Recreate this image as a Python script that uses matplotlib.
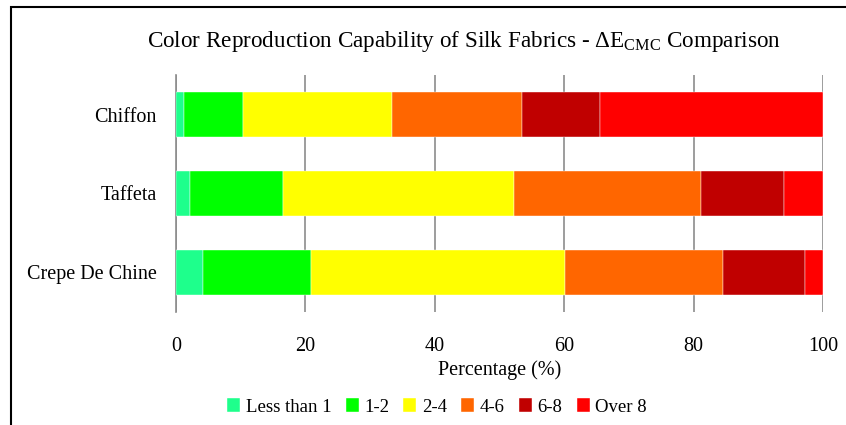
import numpy as np
import matplotlib.pyplot as plt
from matplotlib.patches import Rectangle

# share of samples (%) in each Delta E CMC band, per fabric
fabrics = ['Crepe De Chine', 'Taffeta', 'Chiffon']
bands = ['Less than 1', '1-2', '2-4', '4-6', '6-8', 'Over 8']
less_than_1 = [4.1, 2.2, 1.2]
de_1_2 = [16.8, 14.4, 9.1]
de_2_4 = [39.2, 35.6, 23.1]
de_4_6 = [24.5, 29.0, 20.1]
de_6_8 = [12.6, 12.7, 12.1]
over_8 = [2.8, 6.1, 34.4]
colors = ['#1EFF8C', '#00FF00', '#FFFF00', '#FF6600', '#C00000', '#FF0000']

plt.rcParams['font.family'] = 'Liberation Serif'
plt.rcParams['mathtext.fontset'] = 'custom'
plt.rcParams['mathtext.rm'] = 'Liberation Serif'

fig = plt.figure(figsize=(8.46, 4.25), dpi=100)
ax = fig.add_axes([176 / 846, 1 - 312 / 425, 647 / 846, 237 / 425])

y = np.arange(len(fabrics))
left = np.zeros(len(fabrics))
for name, vals, c in zip(bands, [less_than_1, de_1_2, de_2_4, de_4_6, de_6_8, over_8], colors):
    ax.barh(y, vals, left=left, height=0.56, color=c, label=name, zorder=3,
            edgecolor='white', linewidth=0.3)
    left += np.array(vals)

ax.set_xlim(0, 100)
ax.set_ylim(-0.5, 2.5)
ax.set_xticks(range(0, 101, 20))
ax.set_yticks(y)
ax.set_yticklabels(fabrics, fontsize=14.5)
ax.tick_params(axis='x', length=0, pad=18, labelsize=14.5)
ax.tick_params(axis='y', length=0, pad=14)
ax.grid(axis='x', color='#8c8c8c', linewidth=1.2, zorder=0)
for s in ['top', 'right', 'bottom']:
    ax.spines[s].set_visible(False)
ax.spines['left'].set_color('#8c8c8c')
ax.spines['left'].set_linewidth(1.2)
ax.set_xlabel('Percentage (%)', fontsize=14.5, labelpad=3)

fig.text(464 / 846, 1 - 41 / 425,
         'Color Reproduction Capability of Silk Fabrics - Δ' + r'E$_{\mathrm{CMC}}$' + ' Comparison',
         ha='center', va='center', fontsize=16.7)

fig.legend(loc='center', bbox_to_anchor=(437 / 846, 1 - 407 / 425), ncol=6, frameon=False,
           fontsize=13.5, handlelength=0.7, handleheight=0.7, handletextpad=0.3,
           columnspacing=0.75)

# outer frame around the chart
fig.patches.append(Rectangle((11 / 846, -0.2), 1.2, 1.2 - 7 / 425, transform=fig.transFigure,
                             fill=False, edgecolor='black', linewidth=1.5))

fig.savefig('out.png', dpi=100)
